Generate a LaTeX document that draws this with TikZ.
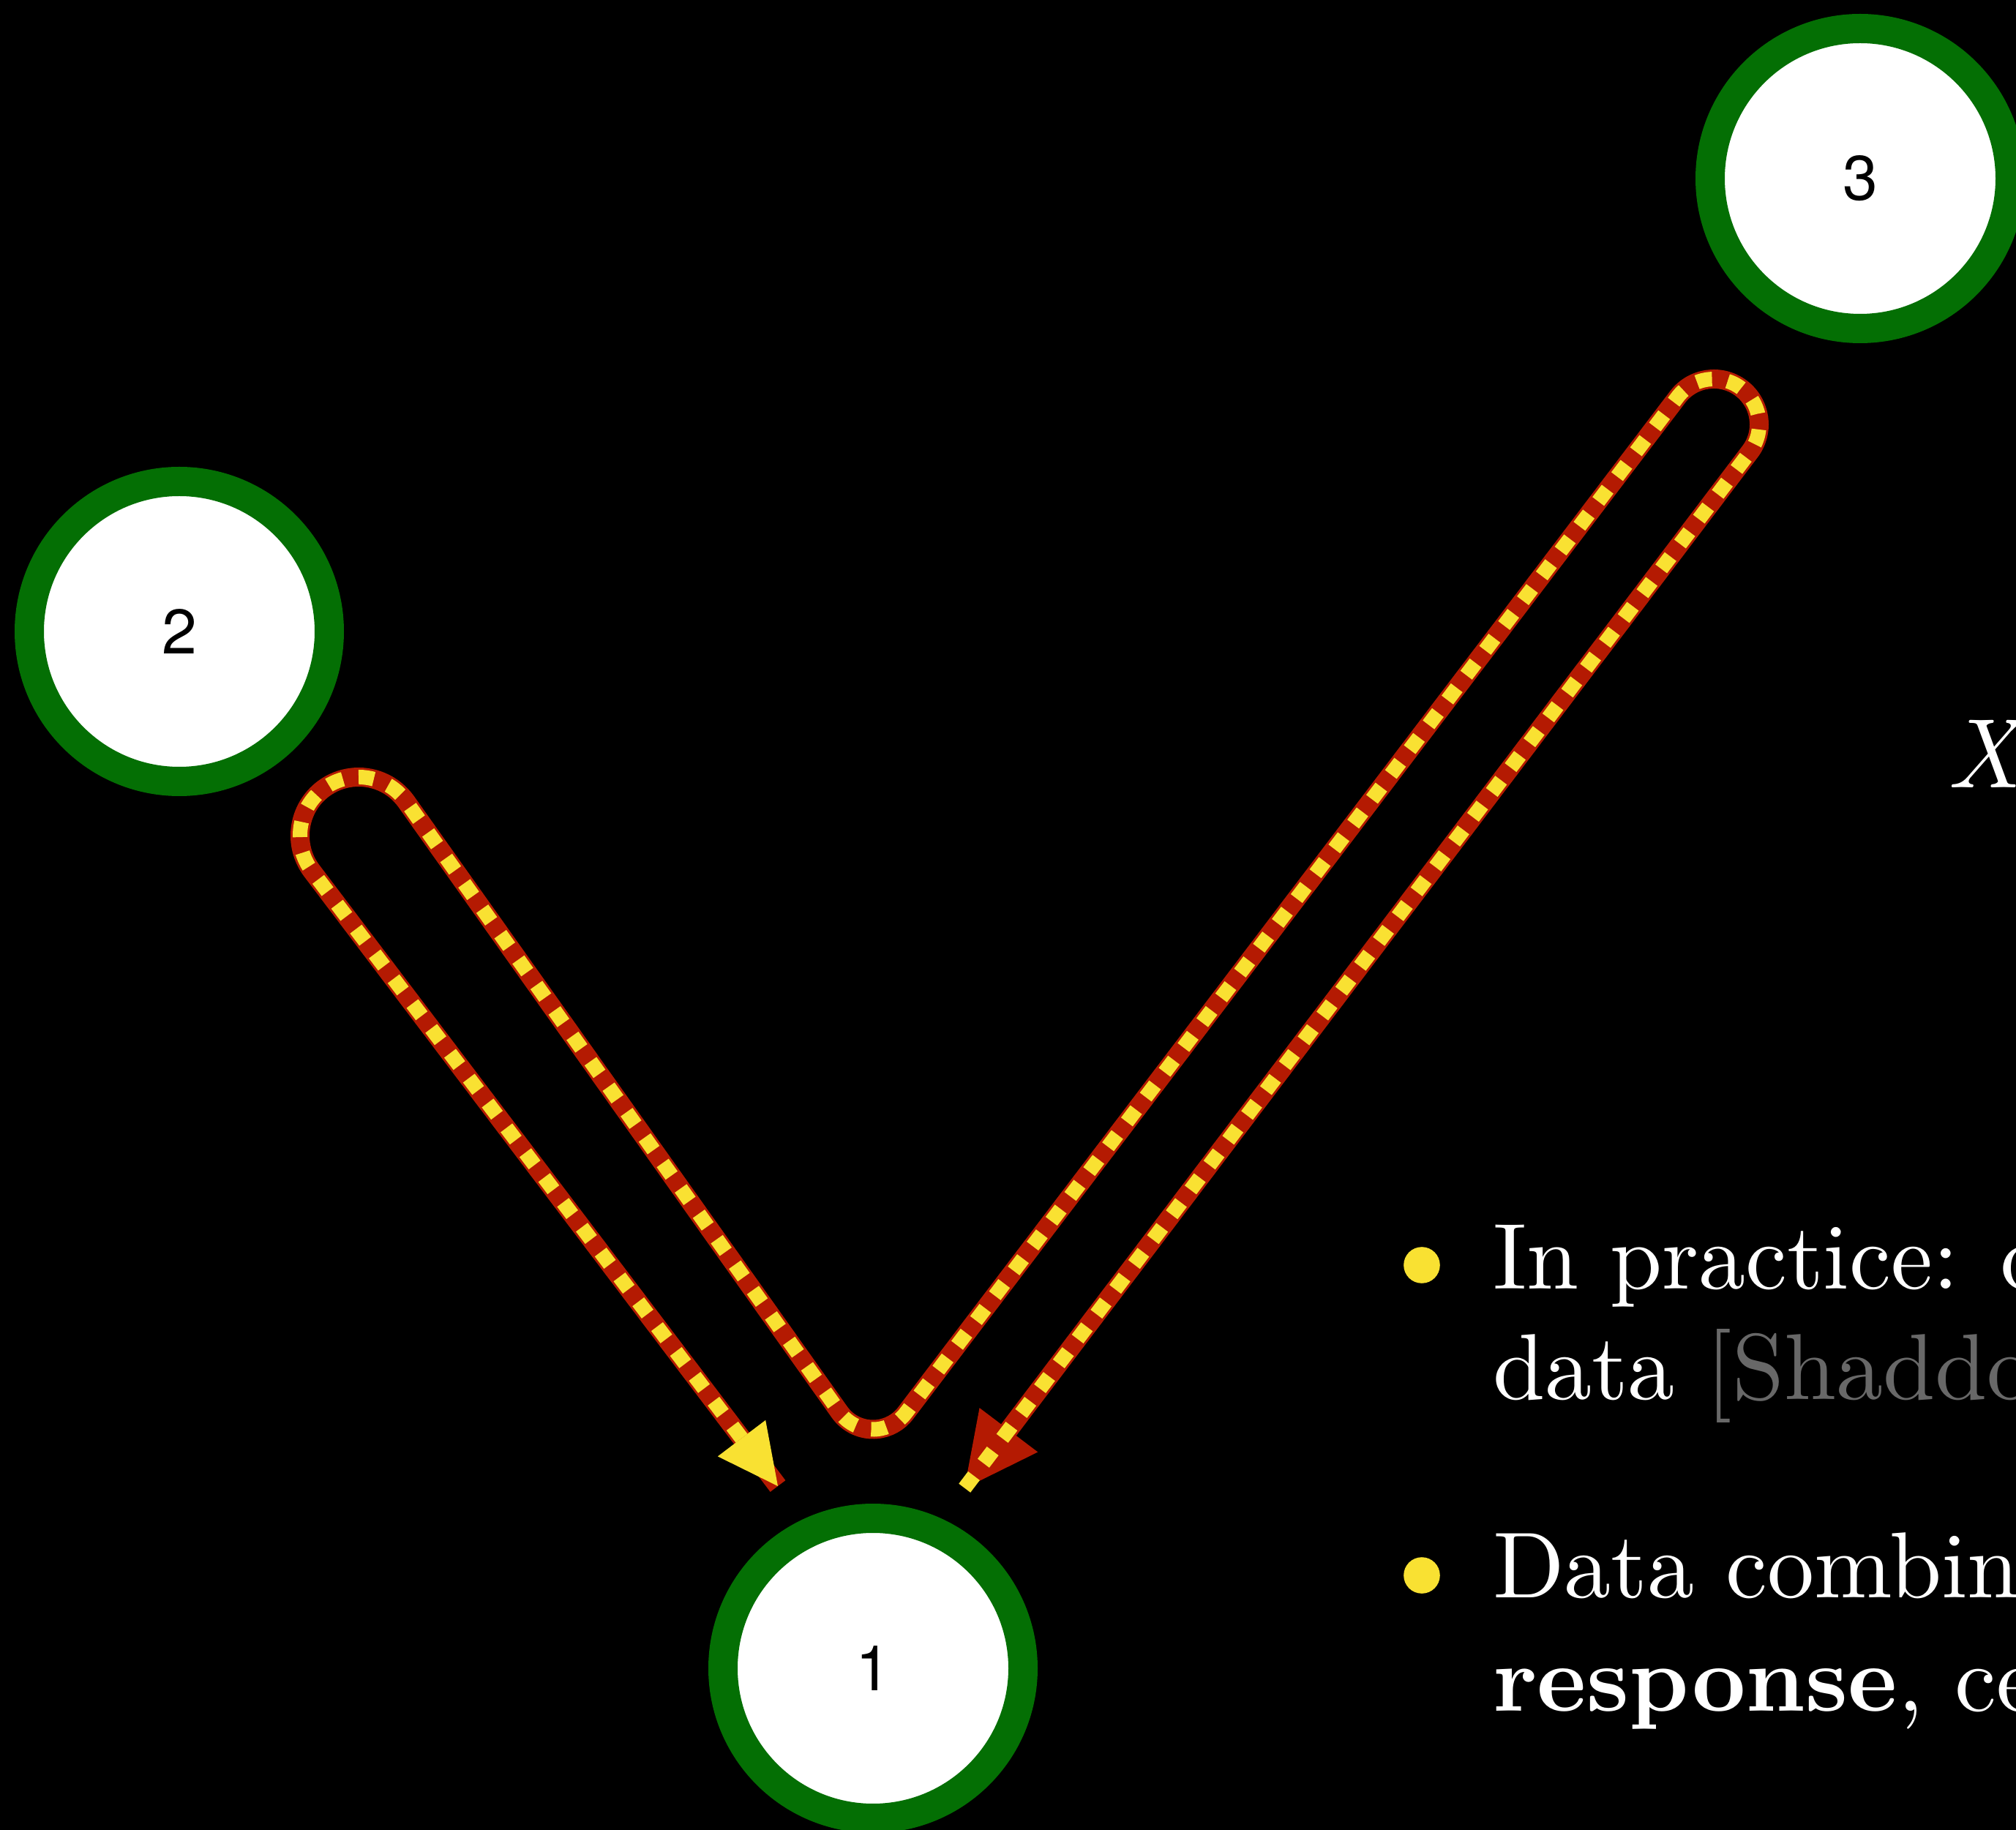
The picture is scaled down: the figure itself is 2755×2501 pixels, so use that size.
\documentclass[tikz,border=0pt]{standalone}
\usepackage{fontspec}
\setmainfont{lmroman10-regular.otf}[BoldFont=lmroman10-bold.otf, ItalicFont=lmroman10-italic.otf]
\newfontfamily\heros{TeX Gyre Heros}
\usetikzlibrary{arrows.meta,calc}
\definecolor{nodegreen}{RGB}{4,111,4}
\definecolor{edgered}{RGB}{180,26,2}
\definecolor{edgeyellow}{RGB}{249,225,50}
\definecolor{citegray}{RGB}{104,104,104}
\tikzset{
  state/.style={circle, draw=nodegreen, line width=10pt, fill=white,
    minimum size=102.5pt, inner sep=0pt, outer sep=0pt,
    font=\heros\fontsize{21.5pt}{25pt}\selectfont},
  redline/.style={draw=edgered, line width=6.5pt},
  yellowdash/.style={draw=edgeyellow, line width=5pt, dash pattern=on 5.25pt off 5.4pt},
  bodytext/.style={anchor=base west, inner sep=0pt, outer sep=0pt, text=white,
    font=\fontsize{32pt}{38.25pt}\selectfont},
  bulletdot/.style={circle, fill=edgeyellow, inner sep=0pt, minimum size=12.4pt}
}
\begin{document}
\begin{tikzpicture}[x=0.25pt, y=-0.25pt]
\useasboundingbox (0,0) rectangle (2755,2501);
\fill[black] (0,0) rectangle (2755,2501);
\clip (0,0) rectangle (2755,2501);

% states
\node[state] (n3) at (2542,244) {3};
\node[state] (n2) at (245,863) {2};
\node[state] (n1) at (1193,2280) {1};

% connector end points near node 1
\coordinate (s) at ($(n1)+(-130,-249)$);
\coordinate (e) at ($(n1)+(125,-246)$);

% red base layer (arrow at end)
\draw[redline, -{Triangle[length=25pt, width=25pt, line width=0pt]}]
  (s) -- (426,1190) arc[start angle=143.13, end angle=324.8, radius=80]
  -- (1147.2,1929.8) arc[start angle=144.8, end angle=36.87, radius=56]
  -- (2292.4,542.8) arc[start angle=216.87, end angle=396.87, radius=62]
  -- (e);
% yellow dashed layer (arrow at start)
\draw[yellowdash, {Triangle[length=20.5pt, width=20.5pt, line width=0pt]}-]
  (s) -- (426,1190) arc[start angle=143.13, end angle=324.8, radius=80]
  -- (1147.2,1929.8) arc[start angle=144.8, end angle=36.87, radius=56]
  -- (2292.4,542.8) arc[start angle=216.87, end angle=396.87, radius=62]
  -- (e);

% text on the right
\node[anchor=base west, inner sep=0pt, text=white, font=\fontsize{33.75pt}{40pt}\selectfont\itshape] (xlab) at (2660,1077) {X};

\node[bulletdot] (b1) at (1943,1729) {};
\node[bodytext] (l1) at (2040,1762) {In practice: c};
\node[bodytext] (l2) at (2040,1913) {data \textcolor{citegray}{[Shaddo}};
\node[bulletdot] (b2) at (1943,2153) {};
\node[bodytext] (l3) at (2040,2183) {Data combin};
\node[bodytext] (l4) at (2040,2338) {\textbf{response}, ce};
\end{tikzpicture}
\end{document}
